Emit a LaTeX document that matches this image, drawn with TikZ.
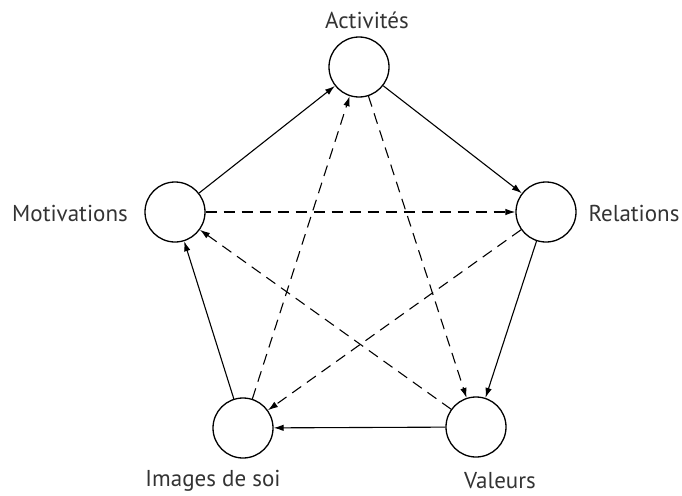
\documentclass[tikz,border=0pt]{standalone}
\usepackage{fontspec}
\setmainfont{PT Sans}
\usetikzlibrary{arrows.meta}
\begin{document}
\begin{tikzpicture}[x=1pt,y=-1pt,
  circ/.style={circle,draw,line width=1.3pt,minimum size=60pt,inner sep=0pt},
  lab/.style={font=\fontsize{23}{26}\selectfont,text=black!80},
  con/.style={line width=1.1pt,-{Latex[length=10pt,width=6.5pt]}},
  dcon/.style={con,dash pattern=on 11pt off 7pt}]
\useasboundingbox (0,0) rectangle (682,495);
\node[circ] (act) at (359,67) {};
\node[circ] (rel) at (546,212) {};
\node[circ] (val) at (476,427) {};
\node[circ] (img) at (243,428) {};
\node[circ] (mot) at (175,212) {};
\node[lab] (lact) at (367,20) {Activités};
\node[lab] (lrel) at (634,213) {Relations};
\node[lab] (lval) at (500,481) {Valeurs};
\node[lab] (limg) at (213,481) {Images de soi};
\node[lab] (lmot) at (70,213) {Motivations};
\draw[con] (mot) -- (act);
\draw[con] (act) -- (rel);
\draw[con] (rel) -- (val);
\draw[con] (val) -- (img);
\draw[con] (img) -- (mot);
\draw[dcon] (mot) -- (rel);
\draw[dcon] (val) -- (mot);
\draw[dcon] (rel) -- (img);
\draw[dcon] (img) -- (act);
\draw[dcon] (act) -- (val);
\end{tikzpicture}
\end{document}
